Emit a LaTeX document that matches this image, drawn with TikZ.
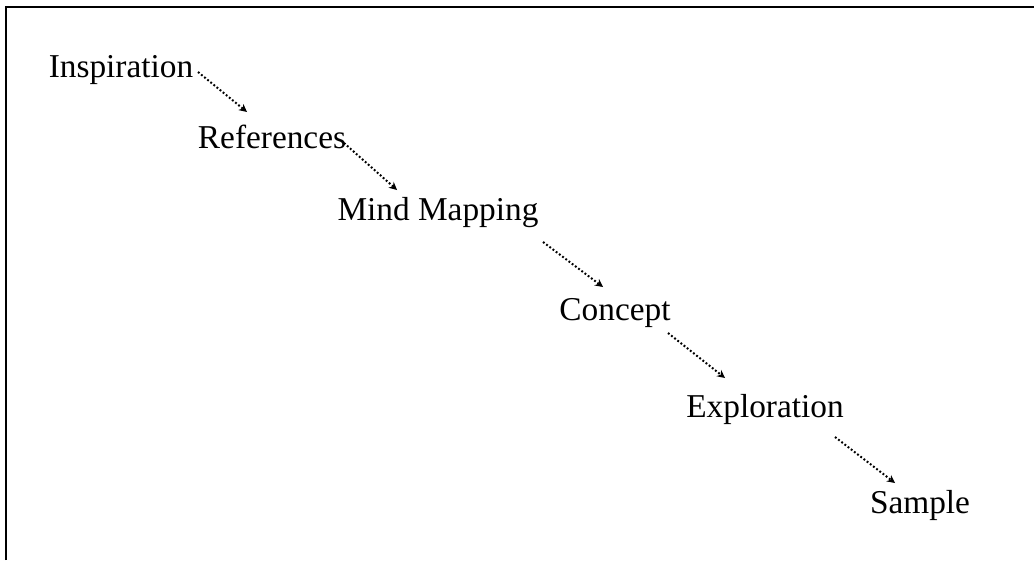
\documentclass[tikz,border=0pt]{standalone}
\usepackage{fontspec}
\setmainfont{Liberation Serif}
\usetikzlibrary{arrows.meta}
\begin{document}
\begin{tikzpicture}[x=0.75pt,y=-0.75pt,
  lbl/.style={inner sep=0pt, font=\fontsize{25}{29}\selectfont},
  arr/.style={line width=1.5pt, dash pattern=on 1.4pt off 1.6pt, -{Stealth[length=6pt,width=6pt,line width=0pt]}}]
\useasboundingbox (0,0) rectangle (1034,560);
\draw[line width=2pt] (6,560) -- (6,7) -- (1034,7);
\node[lbl] (a) at (121,70) {Inspiration};
\node[lbl] (b) at (272,137) {References};
\node[lbl] (c) at (438,213) {Mind Mapping};
\node[lbl] (d) at (615,313) {Concept};
\node[lbl] (e) at (765,409) {Exploration};
\node[lbl] (f) at (920,505) {Sample};
\coordinate (a1) at (198,72);  \coordinate (b0) at (247,112);
\coordinate (b1) at (344,143); \coordinate (c0) at (397,190);
\coordinate (c1) at (543,242); \coordinate (d0) at (603,287);
\coordinate (d1) at (668,333); \coordinate (e0) at (725,378);
\coordinate (e1) at (835,437); \coordinate (f0) at (895,483);
\draw[arr] (a1) -- (b0);
\draw[arr] (b1) -- (c0);
\draw[arr] (c1) -- (d0);
\draw[arr] (d1) -- (e0);
\draw[arr] (e1) -- (f0);
\end{tikzpicture}
\end{document}
